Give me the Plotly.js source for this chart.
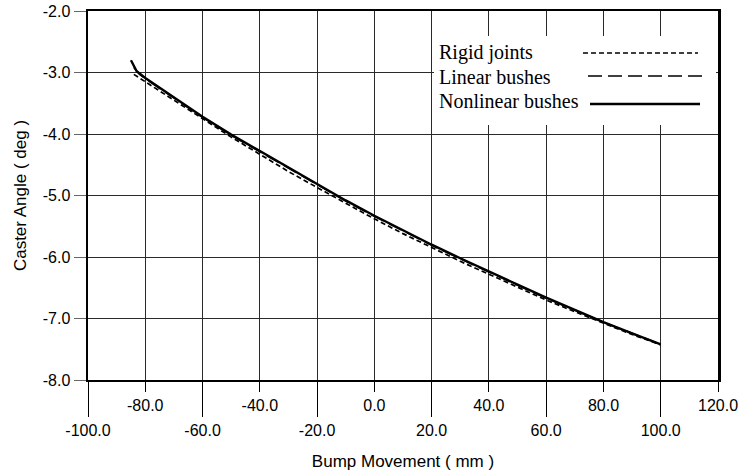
<!DOCTYPE html>
<html>
<head>
<meta charset="utf-8">
<script src="https://cdn.plot.ly/plotly-3.0.1.min.js"></script>
<style>html,body{margin:0;padding:0;background:#fff;}#chart{width:742px;height:473px;}</style>
</head>
<body>
<div id="chart"></div>
<script>
// ---- data ----
const seriesNames = ["Rigid joints", "Linear bushes", "Nonlinear bushes"];

const rigidX = [-84, -80, -70, -60, -50, -40, -30, -20, -10, 0, 10, 20, 30, 40, 50, 60, 70, 80, 90, 100];
const rigidY = [-3.03, -3.15, -3.46, -3.76, -4.05, -4.33, -4.61, -4.87, -5.13, -5.38, -5.62, -5.85, -6.07, -6.28, -6.49, -6.70, -6.89, -7.08, -7.26, -7.43];

const linearX = [-84, -82, -80, -70, -60, -50, -40, -30, -20, -10, 0, 10, 20, 30, 40, 50, 60, 70, 80, 90, 100];
const linearY = [-2.92, -3.03, -3.10, -3.42, -3.73, -4.02, -4.29, -4.56, -4.83, -5.09, -5.34, -5.58, -5.81, -6.03, -6.25, -6.46, -6.67, -6.87, -7.06, -7.24, -7.42];

const nonlinearX = [-85, -83, -80, -70, -60, -50, -40, -30, -20, -10, 0, 10, 20, 30, 40, 50, 60, 70, 80, 90, 100];
const nonlinearY = [-2.80, -2.98, -3.09, -3.41, -3.72, -4.01, -4.28, -4.55, -4.82, -5.08, -5.33, -5.57, -5.80, -6.02, -6.24, -6.45, -6.66, -6.86, -7.06, -7.24, -7.42];

const xTickUpperVals = [-80, -40, 0, 40, 80, 120];
const xTickUpperText = ["-80.0", "-40.0", "0.0", "40.0", "80.0", "120.0"];
const xTickLowerVals = [-100, -60, -20, 20, 60, 100];
const xTickLowerText = ["-100.0", "-60.0", "-20.0", "20.0", "60.0", "100.0"];
const yTickVals = [-8, -7, -6, -5, -4, -3, -2];
const yTickText = ["-8.0", "-7.0", "-6.0", "-5.0", "-4.0", "-3.0", "-2.0"];

const xTitle = "Bump Movement ( mm )";
const yTitle = "Caster Angle ( deg )";

// ---- styles ----
const dashes = ["5px,3px", "14px,6px", "solid"];
const widths = [1.7, 1.6, 2.4];

const traces = [
  {x: rigidX, y: rigidY, name: seriesNames[0], mode: "lines", line: {color: "#000", width: widths[0], dash: dashes[0]}, xaxis: "x", yaxis: "y"},
  {x: linearX, y: linearY, name: seriesNames[1], mode: "lines", line: {color: "#000", width: widths[1], dash: dashes[1]}, xaxis: "x", yaxis: "y"},
  {x: nonlinearX, y: nonlinearY, name: seriesNames[2], mode: "lines", line: {color: "#000", width: widths[2], dash: dashes[2]}, xaxis: "x", yaxis: "y"},
  {x: nonlinearX, y: nonlinearY, mode: "lines", opacity: 0, hoverinfo: "skip", showlegend: false, xaxis: "x2", yaxis: "y"}
];

const L = 88, R = 718, T = 11, B = 380, W = 742, H = 473;
const px = v => (v - L) / (R - L);
const py = v => (B - v) / (B - T);

const tickFont = {family: "Liberation Sans, Arial, sans-serif", size: 16, color: "#000"};
const titleFont = {family: "Liberation Sans, Arial, sans-serif", size: 17, color: "#000"};
const legendFont = {family: "Liberation Serif, Times New Roman, serif", size: 20, color: "#000"};

const legendRows = [
  {textY: 53, x0: 583, x1: 698, lineY: 53},
  {textY: 77, x0: 588, x1: 703, lineY: 76},
  {textY: 101, x0: 590, x1: 700, lineY: 104}
];

const shapes = [
  {type: "rect", xref: "paper", yref: "paper", x0: px(434), x1: px(716), y0: py(125), y1: py(36),
   fillcolor: "#fff", line: {width: 0}, layer: "above"}
];
const annotations = [];
legendRows.forEach((r, i) => {
  shapes.push({type: "line", xref: "paper", yref: "paper", x0: px(r.x0), x1: px(r.x1), y0: py(r.lineY), y1: py(r.lineY),
    line: {color: "#000", width: widths[i], dash: dashes[i]}, layer: "above"});
  annotations.push({xref: "paper", yref: "paper", x: px(437), y: py(r.textY), xanchor: "left", yanchor: "middle",
    text: seriesNames[i], showarrow: false, font: legendFont});
});

const layout = {
  width: W, height: H,
  margin: {l: L, r: W - R, t: T, b: H - B, pad: 0},
  paper_bgcolor: "#fff", plot_bgcolor: "#fff",
  showlegend: false,
  xaxis: {
    range: [-100, 120], tickmode: "array", tickvals: xTickUpperVals, ticktext: xTickUpperText,
    ticks: "outside", ticklen: 10, tickwidth: 1, tickcolor: "#000",
    showgrid: true, gridcolor: "#2a2a2a", gridwidth: 1, zeroline: false,
    showline: true, linecolor: "#000", linewidth: 2, mirror: true,
    tickfont: tickFont
  },
  xaxis2: {
    range: [-100, 120], overlaying: "x", anchor: "y", side: "bottom",
    tickmode: "array", tickvals: xTickLowerVals, ticktext: xTickLowerText,
    ticks: "outside", ticklen: 36, tickwidth: 1, tickcolor: "#000",
    showgrid: true, gridcolor: "#2a2a2a", gridwidth: 1, zeroline: false,
    showline: false, tickfont: tickFont,
    title: {text: xTitle, font: titleFont, standoff: 16}
  },
  yaxis: {
    range: [-8, -2], tickmode: "array", tickvals: yTickVals, ticktext: yTickText,
    ticks: "outside", ticklen: 12, tickwidth: 1, tickcolor: "#666",
    showgrid: true, gridcolor: "#2a2a2a", gridwidth: 1, zeroline: false,
    showline: true, linecolor: "#000", linewidth: 2.5, mirror: true,
    tickfont: tickFont,
    title: {text: yTitle, font: titleFont, standoff: 12}
  },
  shapes: shapes,
  annotations: annotations
};

Plotly.newPlot("chart", traces, layout, {staticPlot: true, displayModeBar: false});
</script>
</body>
</html>
